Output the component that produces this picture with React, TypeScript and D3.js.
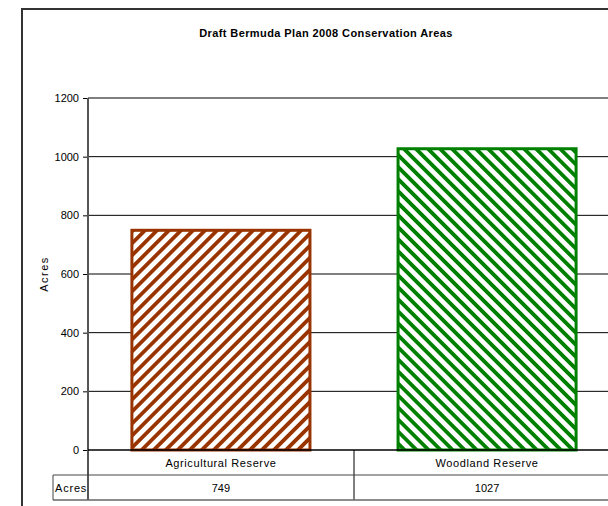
import React, { useEffect, useRef } from 'react';
import * as d3 from 'd3';

const categories = ['Agricultural Reserve', 'Woodland Reserve'];
const acres = [749, 1027];
const yTicks = [0, 200, 400, 600, 800, 1000, 1200];
const seriesName = 'Acres';
const title = 'Draft Bermuda Plan 2008 Conservation Areas';

const colors = ['#993300', '#008000'];

export default function App() {
  const svgRef = useRef<SVGSVGElement>(null);

  const width = 608;
  const height = 506;
  const plot = { left: 88, top: 98, right: 620, bottom: 450 };
  const rowH = 25;
  const font = '"Liberation Sans Narrow", "Liberation Sans", Arial, sans-serif';

  useEffect(() => {
    const svg = d3.select(svgRef.current);
    svg.selectAll('*').remove();

    const defs = svg.append('defs');
    // hatch patterns: "/" for the first bar, "\" for the second
    categories.forEach((c, i) => {
      const p = defs.append('pattern')
        .attr('id', `hatch${i}`)
        .attr('patternUnits', 'userSpaceOnUse')
        .attr('width', 8.5)
        .attr('height', 8.5)
        .attr('patternTransform', `rotate(${i === 0 ? 45 : -45})`);
      p.append('rect').attr('width', 8.5).attr('height', 8.5).attr('fill', '#fff');
      p.append('rect').attr('x', 0).attr('width', 3.8).attr('height', 8.5).attr('fill', colors[i]);
    });

    // outer chart border
    svg.append('rect')
      .attr('x', 22).attr('y', 9)
      .attr('width', 700).attr('height', 600)
      .attr('fill', 'none')
      .attr('stroke', '#333')
      .attr('stroke-width', 2);

    const x = d3.scaleBand()
      .domain(categories)
      .range([plot.left, plot.right])
      .paddingInner(0.331)
      .paddingOuter(0.165);

    const y = d3.scaleLinear()
      .domain([0, 1200])
      .range([plot.bottom, plot.top]);

    // gridlines
    svg.append('g')
      .selectAll('line')
      .data(yTicks.filter(t => t > 0))
      .enter()
      .append('line')
      .attr('x1', plot.left)
      .attr('x2', width + 20)
      .attr('y1', d => y(d))
      .attr('y2', d => y(d))
      .attr('stroke', '#000')
      .attr('stroke-width', 1);

    // bars
    svg.append('g')
      .selectAll('rect')
      .data(acres)
      .enter()
      .append('rect')
      .attr('x', (d, i) => x(categories[i])!)
      .attr('y', d => y(d))
      .attr('width', x.bandwidth())
      .attr('height', d => y(0) - y(d))
      .attr('fill', (d, i) => `url(#hatch${i})`)
      .attr('stroke', (d, i) => colors[i])
      .attr('stroke-width', 3);

    // y axis
    const yAxis = d3.axisLeft(y).tickValues(yTicks).tickFormat(d3.format('d')).tickSize(5).tickPadding(4);
    const yg = svg.append('g')
      .attr('transform', `translate(${plot.left},0)`)
      .call(yAxis);
    yg.select('.domain').remove();
    yg.selectAll('.tick line').attr('stroke', '#000');
    yg.selectAll('.tick text')
      .attr('font-family', font)
      .attr('font-size', 11)
      .attr('fill', '#000');

    svg.append('line')
      .attr('x1', plot.left).attr('x2', plot.left)
      .attr('y1', plot.top).attr('y2', plot.bottom + rowH * 2)
      .attr('stroke', '#555')
      .attr('stroke-width', 2);

    // x baseline
    svg.append('line')
      .attr('x1', plot.left).attr('x2', width + 20)
      .attr('y1', plot.bottom).attr('y2', plot.bottom)
      .attr('stroke', '#000')
      .attr('stroke-width', 1.5);

    // data table
    const table = svg.append('g');
    const cellEdges = [plot.left, ...categories.map(c => x(c)! + x.bandwidth() + x.step() * x.paddingInner() / 2)];
    table.selectAll('line.div')
      .data(cellEdges.slice(1))
      .enter()
      .append('line')
      .attr('x1', d => d).attr('x2', d => d)
      .attr('y1', plot.bottom).attr('y2', plot.bottom + rowH * 2)
      .attr('stroke', '#000');
    table.append('line')
      .attr('x1', 53).attr('x2', width + 20)
      .attr('y1', plot.bottom + rowH).attr('y2', plot.bottom + rowH)
      .attr('stroke', '#444');
    table.append('line')
      .attr('x1', 53).attr('x2', width + 20)
      .attr('y1', plot.bottom + rowH * 2).attr('y2', plot.bottom + rowH * 2)
      .attr('stroke', '#666')
      .attr('stroke-width', 1.5);
    table.append('line')
      .attr('x1', 53).attr('x2', 53)
      .attr('y1', plot.bottom + rowH).attr('y2', plot.bottom + rowH * 2)
      .attr('stroke', '#444');

    table.selectAll('text.cat')
      .data(categories)
      .enter()
      .append('text')
      .attr('x', d => x(d)! + x.bandwidth() / 2)
      .attr('y', plot.bottom + rowH / 2 + 4)
      .attr('text-anchor', 'middle')
      .attr('font-family', font)
      .attr('font-size', 11)
      .attr('letter-spacing', 0.6)
      .text(d => d);

    table.selectAll('text.val')
      .data(acres)
      .enter()
      .append('text')
      .attr('x', (d, i) => x(categories[i])! + x.bandwidth() / 2)
      .attr('y', plot.bottom + rowH * 1.5 + 4)
      .attr('text-anchor', 'middle')
      .attr('font-family', font)
      .attr('font-size', 11)
      .text(d => d);

    table.append('text')
      .attr('x', 55)
      .attr('y', plot.bottom + rowH * 1.5 + 4)
      .attr('font-family', font)
      .attr('font-size', 11)
      .attr('letter-spacing', 0.8)
      .text(seriesName);

    // titles
    svg.append('text')
      .attr('x', 326)
      .attr('y', 37)
      .attr('text-anchor', 'middle')
      .attr('font-family', font)
      .attr('font-size', 11)
      .attr('font-weight', 'bold')
      .attr('letter-spacing', 0.4)
      .text(title);

    svg.append('text')
      .attr('transform', `translate(48,${(plot.top + plot.bottom) / 2}) rotate(-90)`)
      .attr('text-anchor', 'middle')
      .attr('font-family', font)
      .attr('font-size', 11)
      .attr('letter-spacing', 1.5)
      .text(seriesName);
  });

  return (
    <svg
      ref={svgRef}
      width={width}
      height={height}
      style={{ position: 'absolute', left: 0, top: 0, background: '#fff' }}
    />
  );
}
